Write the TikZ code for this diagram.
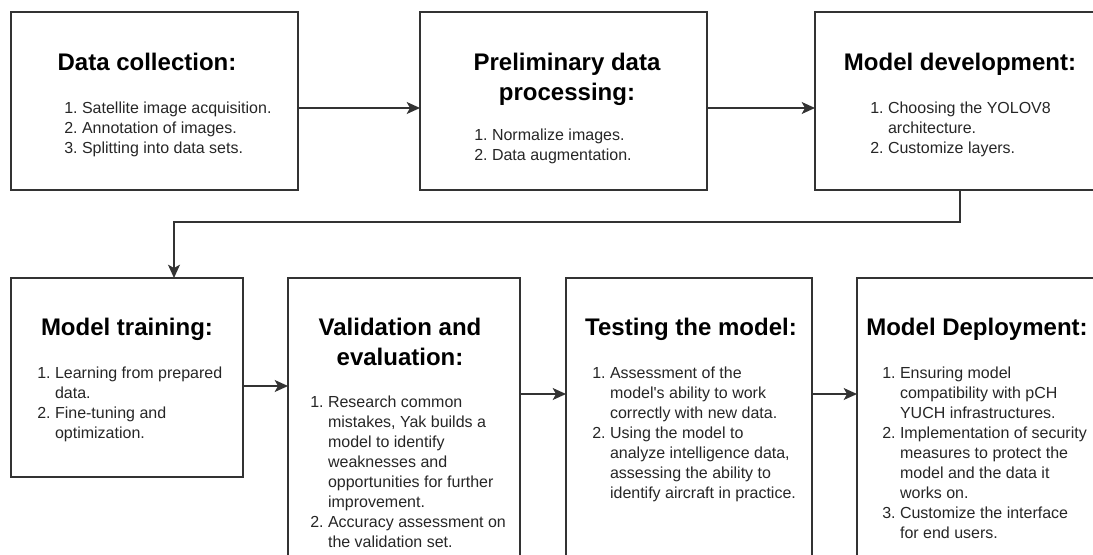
\documentclass[tikz,border=0pt]{standalone}
\usepackage{fontspec}
\setmainfont{Liberation Sans}[Ligatures=TeXOff]
\usetikzlibrary{arrows.meta}

% numbered list and stacked lines
\newcommand{\steps}[1]{\begin{tabular}[t]{@{}r@{\ }l@{}}#1\end{tabular}}
\newcommand{\stack}[1]{\begin{tabular}[t]{@{}c@{}}#1\end{tabular}}

\begin{document}
\begin{tikzpicture}[x=0.75pt, y=-0.75pt,
        stage/.style={draw=black!80, line width=1pt, inner sep=0pt, outer sep=0pt},
        heading/.style={font=\fontsize{18pt}{22.5pt}\selectfont\bfseries, anchor=base, inner sep=0pt},
        items/.style={font=\fontsize{12pt}{15pt}\selectfont, text=black!85, anchor=base west, inner sep=0pt},
        link/.style={draw=black!80, line width=1pt, -{Stealth[length=10pt,width=9pt,inset=2.5pt]}}]
        \path[use as bounding box] (0,0) rectangle (1093,554);
        \clip (0,0) rectangle (1093,554);

        % upper row of boxes
        \node[stage, minimum width=287*0.75pt, minimum height=178*0.75pt] (collect) at (154.5,101) {};
        \node[stage, minimum width=287*0.75pt, minimum height=178*0.75pt] (prep) at (563.5,101) {};
        \node[stage, minimum width=290*0.75pt, minimum height=178*0.75pt] (dev) at (960,101) {};

        % lower row of boxes
        \node[stage, minimum width=232*0.75pt, minimum height=199*0.75pt] (train) at (127,377.5) {};
        \node[stage, minimum width=232*0.75pt, minimum height=322*0.75pt] (valid) at (404,439) {};
        \node[stage, minimum width=246*0.75pt, minimum height=322*0.75pt] (test) at (689,439) {};
        \node[stage, minimum width=248*0.75pt, minimum height=322*0.75pt] (deploy) at (981,439) {};

        % texts of the upper row
        \node[heading] (collect-head) at (147,70.5) {Data collection:};
        \node[items] (collect-list) at (64,113.5) {\steps{
            1.&Satellite image acquisition.\\
            2.&Annotation of images.\\
            3.&Splitting into data sets.}};
        \node[heading] (prep-head) at (567,70.5) {\stack{Preliminary data\\processing:}};
        \node[items] (prep-list) at (474,140.5) {\steps{
            1.&Normalize images.\\
            2.&Data augmentation.}};
        \node[heading] (dev-head) at (960,70.5) {Model development:};
        \node[items] (dev-list) at (870,113.5) {\steps{
            1.&Choosing the YOLOV8\\
              &architecture.\\
            2.&Customize layers.}};

        % texts of the lower row
        \node[heading] (train-head) at (127,335.5) {Model training:};
        \node[items] (train-list) at (37,378.5) {\steps{
            1.&Learning from prepared\\
              &data.\\
            2.&Fine-tuning and\\
              &optimization.}};
        \node[heading] (valid-head) at (400,335.5) {\stack{Validation and\\evaluation:}};
        \node[items] (valid-list) at (310,407.5) {\steps{
            1.&Research common\\
              &mistakes, Yak builds a\\
              &model to identify\\
              &weaknesses and\\
              &opportunities for further\\
              &improvement.\\
            2.&Accuracy assessment on\\
              &the validation set.}};
        \node[heading] (test-head) at (691,335.5) {Testing the model:};
        \node[items] (test-list) at (592,378.5) {\steps{
            1.&Assessment of the\\
              &model's ability to work\\
              &correctly with new data.\\
            2.&Using the model to\\
              &analyze intelligence data,\\
              &assessing the ability to\\
              &identify aircraft in practice.}};
        \node[heading] (deploy-head) at (977,335.5) {Model Deployment:};
        \node[items] (deploy-list) at (882,378.5) {\steps{
            1.&Ensuring model\\
              &compatibility with pCH\\
              &YUCH infrastructures.\\
            2.&Implementation of security\\
              &measures to protect the\\
              &model and the data it\\
              &works on.\\
            3.&Customize the interface\\
              &for end users.}};

        % connectors
        \coordinate (lane1) at (0,108);
        \coordinate (lane2) at (0,386);
        \coordinate (lane3) at (0,394);
        \coordinate (turn) at (174,222);
        \draw[link] (collect.east |- lane1) -- (prep.west |- lane1);
        \draw[link] (prep.east |- lane1) -- (dev.west |- lane1);
        \draw[link] (dev.south) |- (turn) -- (turn |- train.north);
        \draw[link] (train.east |- lane2) -- (valid.west |- lane2);
        \draw[link] (valid.east |- lane3) -- (test.west |- lane3);
        \draw[link] (test.east |- lane3) -- (deploy.west |- lane3);
\end{tikzpicture}
\end{document}
